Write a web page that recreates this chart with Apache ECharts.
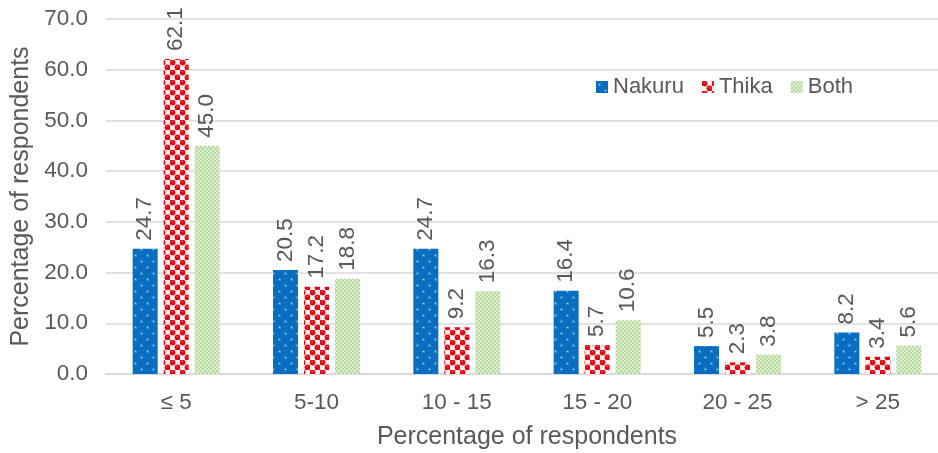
<!DOCTYPE html>
<html>
<head>
<meta charset="utf-8">
<script src="https://cdn.jsdelivr.net/npm/echarts@6/dist/echarts.min.js"></script>
<style>
html,body{margin:0;padding:0;background:#fff;overflow:hidden;}
#c{width:938px;height:453px;}
</style>
</head>
<body>
<div id="c"></div>
<script>
const categories = ['\u2264 5', '5-10', '10 - 15', '15 - 20', '20 - 25', '> 25'];
const seriesNames = ['Nakuru', 'Thika', 'Both'];
const nakuru = [24.7, 20.5, 24.7, 16.4, 5.5, 8.2];
const thika = [62.1, 17.2, 9.2, 5.7, 2.3, 3.4];
const both = [45.0, 18.8, 16.3, 10.6, 3.8, 5.6];
const yTicks = [0, 10, 20, 30, 40, 50, 60, 70];

function mk(w, h, draw) {
  const c = document.createElement('canvas');
  c.width = w; c.height = h;
  draw(c.getContext('2d'));
  return c;
}
const bluePat = mk(12, 12, g => {
  g.fillStyle = '#0b6dbf'; g.fillRect(0, 0, 12, 12);
  g.fillStyle = '#2a86cf'; g.fillRect(2, 2, 3, 3); g.fillRect(8, 8, 3, 3);
  g.fillStyle = '#a6e0f8'; g.fillRect(3, 3, 1, 1); g.fillRect(9, 9, 1, 1);
});
const redPat = mk(10, 10, g => {
  g.fillStyle = '#ffd0d0'; g.fillRect(0, 0, 10, 10);
  g.fillStyle = '#fff0f0'; g.fillRect(5, 0, 5, 5); g.fillRect(0, 5, 5, 5);
  g.fillStyle = '#e30613';
  g.beginPath(); g.arc(2.5, 2.5, 2.9, 0, Math.PI * 2); g.fill();
  g.beginPath(); g.arc(7.5, 7.5, 2.9, 0, Math.PI * 2); g.fill();
  g.fillStyle = '#ff5a5a';
  g.fillRect(1.5, 1, 1.5, 1); g.fillRect(6.5, 6, 1.5, 1);
});
const greenPat = mk(4, 4, g => {
  g.fillStyle = '#b8da9e'; g.fillRect(0, 0, 4, 4);
  g.fillStyle = '#dcefd0'; g.fillRect(0, 0, 2, 2); g.fillRect(2, 2, 2, 2);
});

const chart = echarts.init(document.getElementById('c'), null, {renderer: 'canvas'});
const txt = '#595959';
const font = 'Arial, "Liberation Sans", sans-serif';
const lbl = {
  show: true, position: 'top', rotate: 90, align: 'left', verticalAlign: 'middle',
  distance: 8, color: txt, fontSize: 22.5, fontFamily: font,
  formatter: p => p.value.toFixed(1)
};
function ser(name, data, pat) {
  return {
    name, type: 'bar', data, barWidth: 25, barGap: '24%',
    itemStyle: {color: {image: pat, repeat: 'repeat'}},
    label: lbl
  };
}
chart.setOption({
  animation: false,
  textStyle: {fontFamily: font},
  grid: {left: 106, top: 19, width: 842, height: 355, containLabel: false, outerBoundsMode: 'none'},
  legend: {
    data: seriesNames, left: 591, top: 71, itemWidth: 12, itemHeight: 12, itemGap: 18,
    icon: 'rect',
    textStyle: {color: txt, fontSize: 22, fontFamily: font, padding: [0, 0, 0, 0]}
  },
  xAxis: {
    type: 'category', data: categories,
    axisLine: {lineStyle: {color: '#d9d9d9', width: 2}},
    axisTick: {show: false},
    axisLabel: {color: txt, fontSize: 22.5, fontFamily: font, margin: 17},
    name: 'Percentage of respondents', nameLocation: 'middle', nameGap: 51,
    nameTextStyle: {color: txt, fontSize: 25, fontFamily: font}
  },
  yAxis: {
    type: 'value', min: 0, max: 70, interval: 10,
    axisLine: {show: false}, axisTick: {show: false},
    splitLine: {lineStyle: {color: '#d9d9d9', width: 1.5}},
    axisLabel: {color: txt, fontSize: 22.5, fontFamily: font, margin: 18,
      formatter: v => yTicks.includes(v) ? v.toFixed(1) : ''},
    name: 'Percentage of respondents', nameLocation: 'middle', nameGap: 71,
    nameTextStyle: {color: txt, fontSize: 25, fontFamily: font}
  },
  series: [ser(seriesNames[0], nakuru, bluePat), ser(seriesNames[1], thika, redPat), ser(seriesNames[2], both, greenPat)]
});
</script>
</body>
</html>
